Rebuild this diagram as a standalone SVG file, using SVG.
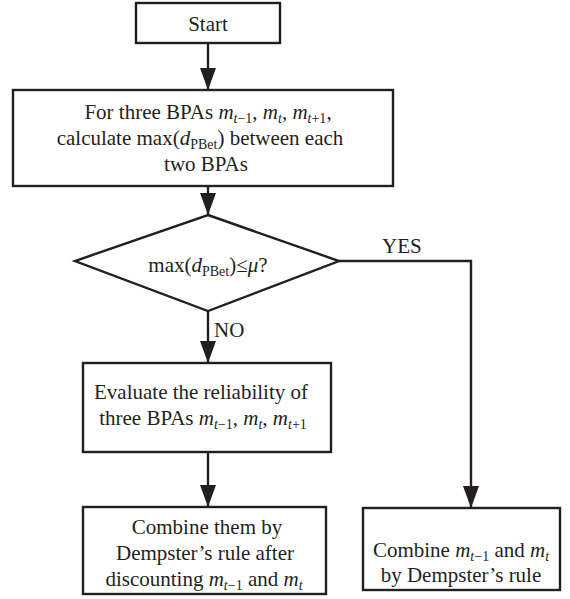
<svg xmlns="http://www.w3.org/2000/svg" width="570" height="599" viewBox="0 0 570 599">
<style>
.box{fill:#fff;stroke:#231f20;stroke-width:2.4}
.ln{fill:none;stroke:#231f20;stroke-width:2.4}
text{font-family:"Liberation Serif","Times New Roman",serif;font-size:21px;fill:#231f20}
.i{font-style:italic}
.s{font-size:14px}
</style>
<defs>
<marker id="ah" markerUnits="userSpaceOnUse" markerWidth="22" markerHeight="16" refX="22" refY="8" orient="auto" viewBox="0 0 22 16">
<path d="M0,0 L22,8 L0,16 Z" fill="#231f20"/>
</marker>
</defs>
<g id="connectors">
<line class="ln" x1="208" y1="43" x2="208" y2="90" marker-end="url(#ah)"/>
<line class="ln" x1="208" y1="186" x2="208" y2="215" marker-end="url(#ah)"/>
<line class="ln" x1="208" y1="311" x2="208" y2="363" marker-end="url(#ah)"/>
<line class="ln" x1="208" y1="452" x2="208" y2="507" marker-end="url(#ah)"/>
<polyline class="ln" points="339,261 471,261 471,508" marker-end="url(#ah)"/>
<text x="382" y="253">YES</text>
<text x="214" y="337">NO</text>
</g>
<g id="start">
<rect class="box" x="136" y="3" width="144" height="40"/>
<text x="208" y="31" text-anchor="middle">Start</text>
</g>
<g id="calc">
<rect class="box" x="13" y="90" width="380" height="96"/>
<text x="208" y="119" text-anchor="middle">For three BPAs <tspan class="i">m</tspan><tspan class="s" dy="4"><tspan class="i">t</tspan>−1</tspan><tspan dy="-4">, </tspan><tspan class="i">m</tspan><tspan class="s i" dy="4">t</tspan><tspan dy="-4">, </tspan><tspan class="i">m</tspan><tspan class="s" dy="4"><tspan class="i">t</tspan>+1</tspan><tspan dy="-4">,</tspan></text>
<text x="200" y="145" text-anchor="middle">calculate max(<tspan class="i">d</tspan><tspan class="s" dy="4">PBet</tspan><tspan dy="-4">) between each</tspan></text>
<text x="206" y="171" text-anchor="middle">two BPAs</text>
</g>
<g id="decision">
<polygon class="box" points="208,215 339,261 208,311 75,261"/>
<text x="208" y="272" text-anchor="middle">max(<tspan class="i">d</tspan><tspan class="s" dy="4">PBet</tspan><tspan dy="-4">)≤</tspan><tspan class="i">μ</tspan>?</text>
</g>
<g id="evaluate">
<rect class="box" x="83" y="363" width="248" height="89"/>
<text x="201" y="399" text-anchor="middle">Evaluate the reliability of</text>
<text x="203" y="425" text-anchor="middle">three BPAs <tspan class="i">m</tspan><tspan class="s" dy="4"><tspan class="i">t</tspan>−1</tspan><tspan dy="-4">, </tspan><tspan class="i">m</tspan><tspan class="s i" dy="4">t</tspan><tspan dy="-4">, </tspan><tspan class="i">m</tspan><tspan class="s" dy="4"><tspan class="i">t</tspan>+1</tspan></text>
</g>
<g id="combine-discount">
<rect class="box" x="83" y="507" width="243" height="87"/>
<text x="207" y="534" text-anchor="middle">Combine them by</text>
<text x="205" y="560" text-anchor="middle">Dempster’s rule after</text>
<text x="204" y="586" text-anchor="middle">discounting <tspan class="i">m</tspan><tspan class="s" dy="4"><tspan class="i">t</tspan>−1</tspan><tspan dy="-4"> and </tspan><tspan class="i">m</tspan><tspan class="s i" dy="4">t</tspan></text>
</g>
<g id="combine">
<rect class="box" x="363" y="508" width="197" height="82"/>
<text x="461" y="557" text-anchor="middle">Combine <tspan class="i">m</tspan><tspan class="s" dy="4"><tspan class="i">t</tspan>−1</tspan><tspan dy="-4"> and </tspan><tspan class="i">m</tspan><tspan class="s i" dy="4">t</tspan></text>
<text x="461" y="582" text-anchor="middle">by Dempster’s rule</text>
</g>
</svg>
